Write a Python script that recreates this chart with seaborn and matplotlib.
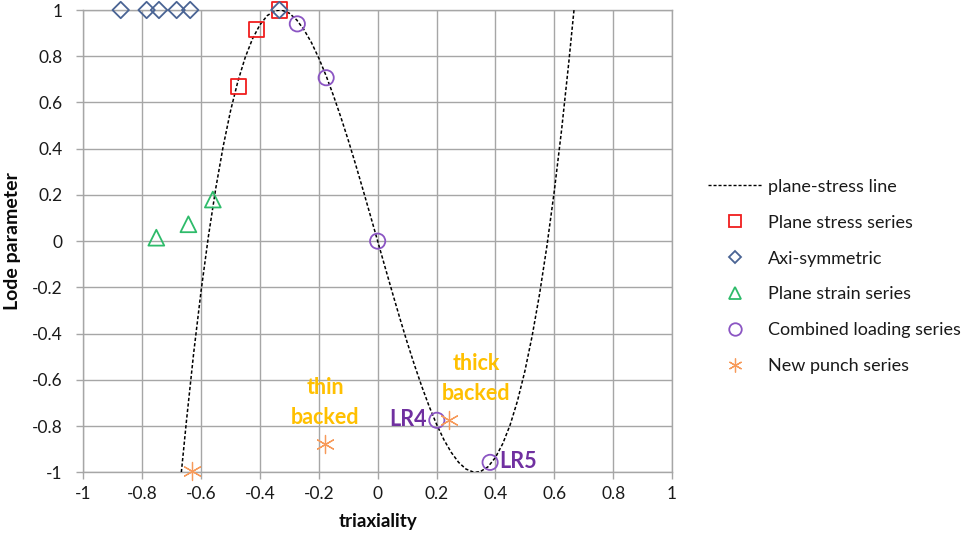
import matplotlib
matplotlib.use("Agg")
import matplotlib.pyplot as plt
import seaborn as sns
import pandas as pd
from matplotlib.lines import Line2D

# ---- data ----
line_x = [-0.667, -0.66, -0.65, -0.625, -0.6, -0.575, -0.55, -0.525, -0.5, -0.475, -0.45, -0.425,
          -0.4, -0.375, -0.35, -0.333, -0.325, -0.3, -0.275, -0.25, -0.225, -0.2, -0.175, -0.15,
          -0.125, -0.1, -0.075, -0.05, -0.025, 0.0, 0.025, 0.05, 0.075, 0.1, 0.125, 0.15, 0.175,
          0.2, 0.225, 0.25, 0.275, 0.3, 0.325, 0.333, 0.35, 0.375, 0.4, 0.425, 0.45, 0.475, 0.5,
          0.525, 0.55, 0.575, 0.6, 0.625, 0.65, 0.66, 0.667]
line_y = [-1.0, -0.911, -0.782, -0.483, -0.216, 0.021, 0.229, 0.409, 0.563, 0.691, 0.795, 0.876,
          0.936, 0.976, 0.996, 1.0, 0.999, 0.986, 0.957, 0.914, 0.859, 0.792, 0.715, 0.629,
          0.536, 0.437, 0.332, 0.223, 0.112, 0.0, -0.112, -0.223, -0.332, -0.437, -0.536, -0.629, -0.715,
          -0.792, -0.859, -0.914, -0.957, -0.986, -0.999, -1.0, -0.996, -0.976, -0.936, -0.876, -0.795,
          -0.691, -0.563, -0.409, -0.229, -0.021, 0.216, 0.483, 0.782, 0.911, 1.0]

plane_stress_x = [-0.472, -0.411, -0.334]
plane_stress_y = [0.669, 0.917, 1.0]

axisym_x = [-0.873, -0.785, -0.743, -0.683, -0.637, -0.334]
axisym_y = [1.0, 1.0, 1.0, 1.0, 1.0, 1.0]

plane_strain_x = [-0.752, -0.643, -0.560]
plane_strain_y = [0.015, 0.073, 0.180]

combined_x = [-0.273, -0.175, 0.0, 0.201, 0.382]
combined_y = [0.940, 0.707, 0.0, -0.775, -0.957]

punch_x = [-0.632, -0.178, 0.241]
punch_y = [-0.995, -0.879, -0.772]

series_labels = ["plane-stress line", "Plane stress series", "Axi-symmetric",
                 "Plane strain series", "Combined loading series", "New punch series"]

x_ticks = [-1, -0.8, -0.6, -0.4, -0.2, 0, 0.2, 0.4, 0.6, 0.8, 1]
y_ticks = [-1, -0.8, -0.6, -0.4, -0.2, 0, 0.2, 0.4, 0.6, 0.8, 1]
x_ticklabels = ["-1", "-0.8", "-0.6", "-0.4", "-0.2", "0", "0.2", "0.4", "0.6", "0.8", "1"]
y_ticklabels = ["-1", "-0.8", "-0.6", "-0.4", "-0.2", "0", "0.2", "0.4", "0.6", "0.8", "1"]

# ---- style ----
sns.set_theme(style="white")
plt.rcParams["font.family"] = ["Lato", "DejaVu Sans"]

RED = "#F01E1E"
BLUE = "#4A6494"
GREEN = "#2EBB6A"
PURPLE = "#8B55C3"
ORANGE = "#F79A5A"
GOLD = "#FFC000"
LRPURPLE = "#7030A0"
GRID = "#A6A6A6"
TXT = "#1A1A1A"

fig = plt.figure(figsize=(9.70, 5.41), dpi=100)
ax = fig.add_axes([0.0859, 0.127, 0.6069, 0.8545])

df_line = pd.DataFrame({"x": line_x, "y": line_y})
sns.lineplot(data=df_line, x="x", y="y", sort=False, estimator=None, ax=ax,
             color="black", linewidth=1.1, linestyle=(0, (2.2, 1.4)), zorder=3)

common = dict(ax=ax, clip_on=False, zorder=4, legend=False)
sns.scatterplot(x=plane_stress_x, y=plane_stress_y, marker="s", s=120,
                color=RED, facecolor="none", edgecolor=RED, linewidth=1.3, **common)
sns.scatterplot(x=axisym_x, y=axisym_y, marker="D", s=70,
                color=BLUE, facecolor="none", edgecolor=BLUE, linewidth=1.3, **common)
sns.scatterplot(x=plane_strain_x, y=plane_strain_y, marker="^", s=130,
                color=GREEN, facecolor="none", edgecolor=GREEN, linewidth=1.3, **common)
sns.scatterplot(x=combined_x, y=combined_y, marker="o", s=120,
                color=PURPLE, facecolor="none", edgecolor=PURPLE, linewidth=1.3, **common)
sns.scatterplot(x=punch_x, y=punch_y, marker=(6, 2, 0), s=170,
                color=ORANGE, edgecolor=ORANGE, linewidth=0.9, **common)

ax.set_xlim(-1, 1)
ax.set_ylim(-1, 1)
ax.set_xticks(x_ticks)
ax.set_xticklabels(x_ticklabels)
ax.set_yticks(y_ticks)
ax.set_yticklabels(y_ticklabels)
ax.grid(True, color=GRID, linewidth=1.0)
ax.set_axisbelow(True)
for sp in ax.spines.values():
    sp.set_color(GRID)
    sp.set_linewidth(1.0)
ax.tick_params(axis="both", which="major", length=5, width=1.0, color=GRID,
               labelsize=12.5, labelcolor=TXT, direction="out",
               bottom=True, left=True)
ax.tick_params(axis="x", pad=5)
ax.tick_params(axis="y", pad=10)
ax.set_xlabel("triaxiality", fontsize=13.5, fontweight="bold", color="#0A0A0A", labelpad=8)
ax.set_ylabel("Lode parameter", fontsize=14, fontweight="bold", color="#0A0A0A", labelpad=8)

# annotations
ann_kw = dict(fontsize=15.5, fontweight="bold", zorder=5)
ax.text(-0.178, -0.699, "thin\nbacked", ha="center", va="center", color=GOLD,
        linespacing=1.5, **ann_kw)
ax.text(0.335, -0.595, "thick\nbacked", ha="center", va="center", color=GOLD,
        linespacing=1.5, **ann_kw)
ax.text(0.168, -0.772, "LR4", ha="right", va="center", color=LRPURPLE, **ann_kw)
ax.text(0.412, -0.955, "LR5", ha="left", va="center", color=LRPURPLE, **ann_kw)

# legend
handles = [
    Line2D([], [], color="black", linewidth=1.0, linestyle=(0, (2.2, 1.4))),
    Line2D([], [], linestyle="none", marker="s", markersize=9, markerfacecolor="none",
           markeredgecolor=RED, markeredgewidth=1.3),
    Line2D([], [], linestyle="none", marker="D", markersize=6.5, markerfacecolor="none",
           markeredgecolor=BLUE, markeredgewidth=1.3),
    Line2D([], [], linestyle="none", marker="^", markersize=9, markerfacecolor="none",
           markeredgecolor=GREEN, markeredgewidth=1.3),
    Line2D([], [], linestyle="none", marker="o", markersize=9, markerfacecolor="none",
           markeredgecolor=PURPLE, markeredgewidth=1.3),
    Line2D([], [], linestyle="none", marker=(6, 2, 0), markersize=10,
           markeredgecolor=ORANGE, color=ORANGE, markeredgewidth=0.9),
]
fig.legend(handles, series_labels, loc="center left", bbox_to_anchor=(0.721, 0.489),
           frameon=False, fontsize=13, handlelength=2.95, handletextpad=0.35,
           labelspacing=1.1, borderpad=0, labelcolor=TXT)

fig.savefig("out.png", dpi=100)
